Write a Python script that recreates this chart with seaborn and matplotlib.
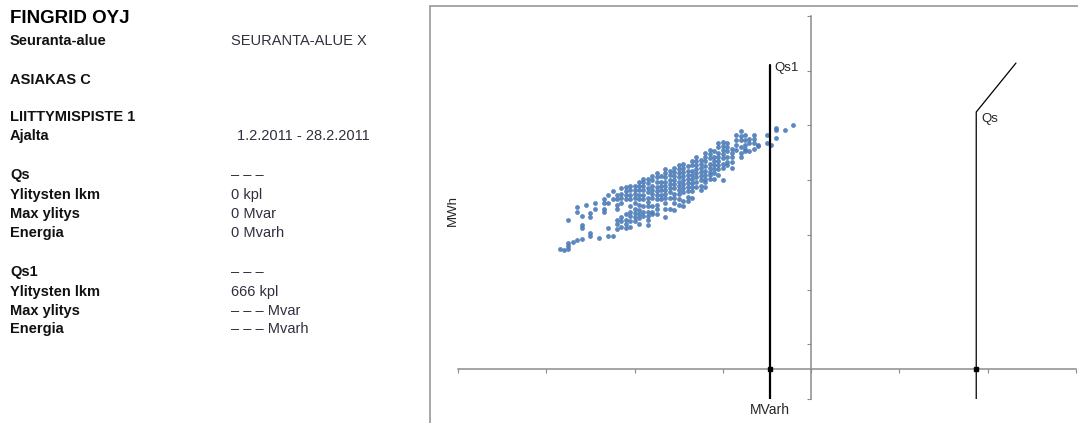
import numpy as np
import pandas as pd
import seaborn as sns
import matplotlib.pyplot as plt
from matplotlib.lines import Line2D

# ---- report header (left panel) ----
title = "FINGRID OYJ"
info_labels = ["Seuranta-alue", "ASIAKAS C", "LIITTYMISPISTE 1", "Ajalta",
               "Qs", "Ylitysten lkm", "Max ylitys", "Energia",
               "Qs1", "Ylitysten lkm", "Max ylitys", "Energia"]
info_values = ["SEURANTA-ALUE X", "", "", "1.2.2011 - 28.2.2011",
               "– – –", "0 kpl", "0 Mvar", "0 Mvarh",
               "– – –", "666 kpl", "– – – Mvar", "– – – Mvarh"]

# ---- measured points: reactive energy (MVarh) columns and active energy (MWh) values ----
mvarh_cols = [-57, -56, -55, -54, -53, -52, -51, -50, -49, -48, -47, -46, -45,
              -44, -43, -42, -41, -40, -39, -38, -37, -36, -35, -34, -33, -32,
              -31, -30, -29, -28, -27, -26, -25, -24, -23, -22, -21, -20, -19,
              -18, -17, -16, -15, -14, -13, -12, -10, -9, -8, -6, -4]
mwh_cols = [
    [55], [54.5], [55, 56, 57, 65.5], [57.5], [58, 68.5, 70],
    [58.5, 62.5, 63.5, 67], [71], [59.5, 60.5, 66.5, 68], [69.5, 71.5], [59],
    [68.5, 69.5, 71.5, 73], [59.5, 62.5, 71.5, 74.5], [59.5, 73, 76],
    [62, 64, 65.5, 69.5, 71, 73, 74.5],
    [63, 65, 66.5, 71.5, 73.5, 75, 77],
    [62.5, 64, 65.5, 67.5, 73, 74.5, 76, 77.5],
    [63, 65, 67, 68.5, 70.5, 73, 74.5, 76.5, 78],
    [65, 66.5, 68, 69.5, 71.5, 73.5, 75, 76.5, 78],
    [64, 66, 67.5, 69, 71, 73, 74.5, 76.5, 78, 79.5],
    [67, 68.5, 70.5, 73, 74.5, 76.5, 78, 79.5, 80.5],
    [63.5, 65.5, 67, 68.5, 70.5, 72, 73.5, 75.5, 77, 79, 80.5],
    [67.5, 68.5, 70.5, 73.5, 75, 76.5, 78, 80, 81.5],
    [67.5, 69.5, 71, 73, 74.5, 76, 77.5, 79.5, 81, 82.5],
    [73, 74.5, 76.5, 78, 79.5, 81.5],
    [66.5, 69.5, 71.5, 73.5, 75, 76.5, 78, 79.5, 81, 82.5, 84],
    [69.5, 73.5, 75.5, 77, 78.5, 80, 82, 83.5],
    [69, 71.5, 73.5, 75, 77, 78.5, 80, 81.5, 83, 84.5],
    [71, 73, 75, 76.5, 78, 79.5, 81, 82.5, 84, 85.5],
    [70.5, 72.5, 75.5, 77, 78.5, 80, 81.5, 83, 84.5, 86],
    [72.5, 74, 76, 77.5, 79, 80.5, 82, 83.5, 85],
    [73.5, 76, 77.5, 79, 80.5, 82, 83.5, 85.5, 87],
    [77.5, 79.5, 81, 82.5, 84, 85.5, 87, 88.5],
    [76.5, 78, 80, 81.5, 83, 84.5, 86, 87.5],
    [77.5, 79.5, 80.5, 82, 83.5, 85, 87, 88.5, 90],
    [80.5, 82, 83, 84.5, 86, 88, 89.5, 91],
    [80.5, 82.5, 84, 85.5, 87, 88.5, 90.5],
    [82, 84, 85.5, 87, 88.5, 90, 92, 93.5],
    [80, 84.5, 86, 88, 89.5, 91, 92.5, 94],
    [85.5, 86.5, 88.5, 90.5, 92, 93.5],
    [84.5, 86.5, 88.5, 90, 91.5],
    [91, 93, 94.5, 96.5],
    [88.5, 90, 92, 94.5, 96, 98],
    [90.5, 91.5, 93, 94.5, 96.5],
    [90.5, 93.5, 95],
    [91.5, 93.5, 95, 96.5],
    [92.5, 93],
    [93.5, 96.5],
    [93],
    [95.5, 98.5, 99],
    [98.5],
    [100],
]

# ---- limit lines ----
qs1_x = [-9.3, -9.3]
qs1_y = [0, 122.1]
qs_x = [37.4, 37.4, 46.4]
qs_y = [0, 104.9, 122.8]
axis_cross_y = 10.86  # level where the MVarh axis crosses the MWh axis

x_ticks = np.arange(-80, 61, 20)
y_ticks = np.arange(0, 141, 20)

rows = [(x, y) for x, ys in zip(mvarh_cols, mwh_cols) for y in ys]
df = pd.DataFrame(rows, columns=["MVarh", "MWh"])

sns.set_style("white")
plt.rcParams["font.family"] = ["Liberation Sans", "DejaVu Sans"]

W, H = 1078, 423
fig = plt.figure(figsize=(W / 100, H / 100), dpi=100)

# left-panel text
def px(x, y):
    return x / W, 1 - y / H

fig.text(*px(10, 23), title, fontsize=13.5, fontweight="bold", va="baseline", color="black")
baselines = [45, 84, 121, 140, 179, 199, 218, 237, 276, 296, 315, 333]
for lab, val, b in zip(info_labels, info_values, baselines):
    fig.text(*px(10, b), lab, fontsize=10.5, fontweight="bold", va="baseline", color="#111111")
    if val:
        vx = 237 if val.startswith("1.2") else 231
        fig.text(*px(vx, b), val, fontsize=10.5, va="baseline", color="#30303f")

# chart area frame
frame_c = "#a0a0a0"
fig.add_artist(Line2D([430 / W, 1.0], [1 - 6 / H] * 2, transform=fig.transFigure, color=frame_c, lw=1.3))
fig.add_artist(Line2D([430 / W] * 2, [0.0, 1 - 6 / H], transform=fig.transFigure, color=frame_c, lw=1.3))

ax = fig.add_axes([458 / W, 1 - 399 / H, (1076 - 458) / W, (399 - 16) / H])
sns.scatterplot(data=df, x="MVarh", y="MWh", ax=ax, marker="o", s=12,
                color="#4A7AB8", linewidth=0, alpha=0.9, legend=False, zorder=3)

ax.plot(qs1_x, qs1_y, color="black", lw=1.6, zorder=4)
ax.plot(qs_x, qs_y, color="black", lw=0.9, zorder=4)
ax.plot([qs1_x[0], qs_x[0]], [axis_cross_y, axis_cross_y], ls="none", marker="s",
        ms=3, color="black", zorder=5)

ax.annotate("Qs1", xy=(qs1_x[0], qs1_y[1]), xytext=(3, 2), textcoords="offset points",
            va="top", ha="left", fontsize=9.5)
ax.annotate("Qs", xy=(qs_x[1], qs_y[1]), xytext=(4, -1), textcoords="offset points",
            va="top", ha="left", fontsize=9.5)

ax.set_xlim(x_ticks[0], x_ticks[-1])
ax.set_ylim(y_ticks[0], y_ticks[-1])
ax.set_xticks(x_ticks)
ax.set_yticks(y_ticks)
ax.set_xlabel("")
ax.set_ylabel("")
ax.set_facecolor("none")

spine_c = "#8c8c8c"
for s in ["top", "right"]:
    ax.spines[s].set_visible(False)
ax.spines["left"].set_position(("data", 0))
ax.spines["bottom"].set_position(("data", axis_cross_y))
for s in ["left", "bottom"]:
    ax.spines[s].set_color(spine_c)
    ax.spines[s].set_linewidth(1.1)
ax.tick_params(direction="out", length=3, width=0.8, color=spine_c,
               labelbottom=False, labelleft=False, bottom=True, left=True)

fig.text(*px(453, 210), "MWh", rotation=90, ha="center", va="center", fontsize=9.5)
fig.text(*px(770, 410), "MVarh", ha="center", va="center", fontsize=10)

fig.savefig("out.png", dpi=100)
